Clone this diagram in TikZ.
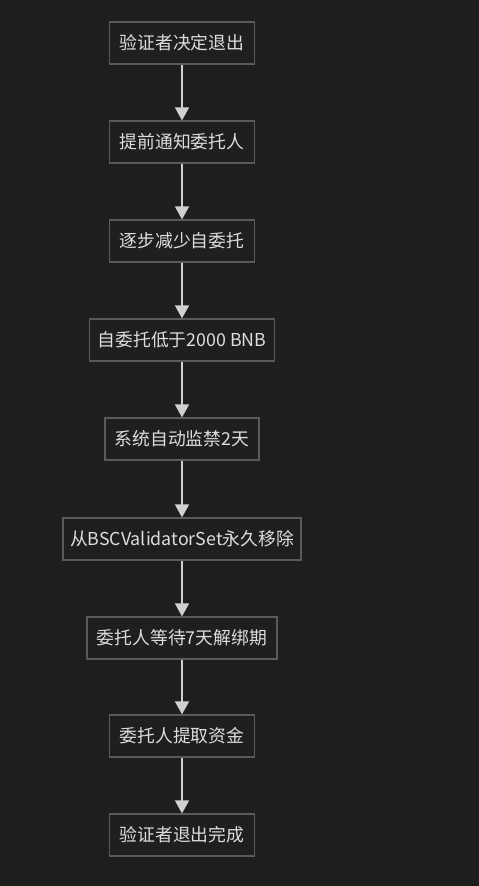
\documentclass[tikz,border=0pt]{standalone}
\usepackage{fontspec}
\setmainfont{Noto Sans CJK SC}
\usetikzlibrary{arrows.meta}
\definecolor{bg}{HTML}{1E1E1E}
\definecolor{boxfill}{HTML}{1F1F1F}
\definecolor{boxline}{HTML}{5A5A5A}
\definecolor{txt}{HTML}{DDDDDD}
\definecolor{arr}{HTML}{D0D0D0}
\begin{document}
\begin{tikzpicture}[x=1pt,y=-1pt,
  stepbox/.style={draw=boxline, fill=boxfill, line width=1.2pt, text=txt,
    minimum height=42pt, inner xsep=0pt, inner ysep=0pt, font=\fontsize{17.8}{19}\selectfont},
  flow/.style={draw=arr, line width=1.6pt, -{Triangle[length=13pt,width=14pt]}}]
\fill[bg] (0,0) rectangle (479,886);
\useasboundingbox (0,0) rectangle (479,886);
\node[stepbox, minimum width=145pt] (n1) at (182,43) {验证者决定退出};
\node[stepbox, minimum width=145pt] (n2) at (182,142) {提前通知委托人};
\node[stepbox, minimum width=145pt] (n3) at (182,241) {逐步减少自委托};
\node[stepbox, minimum width=185pt] (n4) at (182,340) {自委托低于2000 BNB};
\node[stepbox, minimum width=154pt] (n5) at (182,439) {系统自动监禁2天};
\node[stepbox, minimum width=238pt] (n6) at (182,539) {从BSCValidatorSet永久移除};
\node[stepbox, minimum width=190pt] (n7) at (182,638) {委托人等待7天解绑期};
\node[stepbox, minimum width=145pt] (n8) at (182,736) {委托人提取资金};
\node[stepbox, minimum width=145pt] (n9) at (182,835) {验证者退出完成};
\foreach \a/\b in {n1/n2,n2/n3,n3/n4,n4/n5,n5/n6,n6/n7,n7/n8,n8/n9}
  \draw[flow] (\a) -- (\b);
\end{tikzpicture}
\end{document}
